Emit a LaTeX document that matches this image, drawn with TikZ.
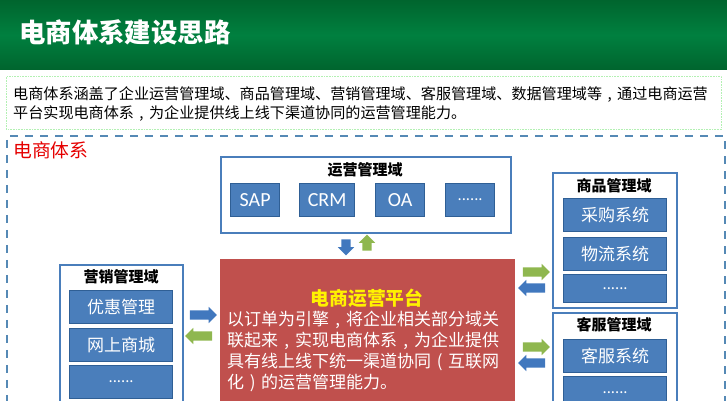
\documentclass[tikz,border=0pt]{standalone}
\usepackage{fontspec}
\setmainfont{Noto Sans CJK SC}
\newfontfamily\latinf{Carlito}
\usetikzlibrary{shapes.arrows}
\newcommand\fw[1]{\makebox[1em][c]{#1}}
\definecolor{hdark}{HTML}{00652E}
\definecolor{hmid}{HTML}{00803F}
\definecolor{bluefill}{HTML}{4A7EBB}
\definecolor{blueedge}{HTML}{2F5F95}
\definecolor{frameblue}{HTML}{5589B5}
\definecolor{redfill}{HTML}{C0504D}
\definecolor{greenar}{HTML}{8FB74F}
\definecolor{bluear}{HTML}{4178BE}
\tikzset{
  x=1pt,y=-1pt,
  box/.style={draw=bluefill,line width=1.5pt,fill=white,inner sep=0pt},
  sysbox/.style={draw=blueedge,line width=1.2pt,fill=bluefill,inner sep=0pt,text=white,font=\fontsize{17}{20}\selectfont,minimum height=33pt,minimum width=103pt},
  dots/.style={sysbox,font=\fontsize{15}{17}\selectfont},
  domtitle/.style={font=\fontsize{15}{17}\selectfont\bfseries,text=black,inner sep=0pt},
  blockar/.style={single arrow,draw=none,inner sep=4.5pt,minimum height=27pt,single arrow head extend=3.5pt,single arrow head indent=0pt},
}
\begin{document}
\begin{tikzpicture}
\useasboundingbox (0,0) rectangle (727,400);
\clip (0,0) rectangle (727,400);
% header
\path[top color=hdark,bottom color=hmid] (0,0) rectangle (727,35);
\path[top color=hmid,bottom color=hdark] (0,35) rectangle (727,69);
\node[anchor=west,text=white,font=\fontsize{26.4}{30}\selectfont\bfseries,inner sep=0pt] (title) at (19,32) {电商体系建设思路};
% intro box
\node[draw=black!20!green!30!white,densely dotted,line width=.6pt,minimum width=715pt,minimum height=53pt,anchor=north west,inner sep=0pt] (introbox) at (6,76) {};
\node[anchor=north west,align=left,inner sep=0pt,font=\fontsize{15.1}{19}\selectfont,text=black] (intro) at (13,86) {电商体系涵盖了企业运营管理域、商品管理域、营销管理域、客服管理域、数据管理域等\fw{,}通过电商运营\\平台实现电商体系\fw{,}为企业提供线上线下渠道协同的运营管理能力。};
% frame
\node[draw=frameblue,dash pattern=on 8pt off 7pt,line width=1.6pt,minimum width=718pt,minimum height=300pt,anchor=north west,inner sep=0pt] (frame) at (6,135) {};
\node[anchor=west,text=red!90!black,inner sep=0pt,font=\fontsize{18.8}{22}\selectfont] (ftitle) at (13,150) {电商体系};
% ops
\node[box,minimum width=290pt,minimum height=76pt,anchor=north west] (ops) at (220,156) {};
\node[domtitle] (opst) at (365,170) {运营管理域};
\node[sysbox,minimum width=49pt,anchor=north west,font=\latinf\fontsize{20}{22}\selectfont] (sap) at (230,183) {SAP};
\node[sysbox,minimum width=55pt,anchor=north west,font=\latinf\fontsize{20}{22}\selectfont] (crm) at (299,183) {CRM};
\node[sysbox,minimum width=49pt,anchor=north west,font=\latinf\fontsize{20}{22}\selectfont] (oa) at (375,183) {OA};
\node[dots,minimum width=49pt,anchor=north west] (opsd) at (445,183) {......};
\node[blockar,fill=bluear,minimum height=16pt,shape border rotate=270] (a1) at (346,245) {};
\node[blockar,fill=greenar,minimum height=16pt,shape border rotate=90] (a2) at (367,245) {};
% platform
\node[fill=redfill,minimum width=295pt,minimum height=160pt,anchor=north west,inner sep=0pt] (plat) at (220,259) {};
\node[text=yellow,font=\fontsize{18.8}{22}\selectfont\bfseries,inner sep=0pt] (platt) at (367,298) {电商运营平台};
\node[anchor=north west,align=left,text=white,inner sep=0pt,font=\fontsize{17}{20.8}\selectfont] (platb) at (227,311) {以订单为引擎\fw{,}将企业相关部分域关\\联起来\fw{,}实现电商体系\fw{,}为企业提供\\具有线上线下统一渠道协同\fw{(}互联网\\化\fw{)}的运营管理能力。};
% marketing
\node[box,minimum width=123pt,minimum height=150pt,anchor=north west] (mk) at (59,264) {};
\node[domtitle] (mkt) at (121,277) {营销管理域};
\node[sysbox,anchor=north west] (yh) at (69,290) {优惠管理};
\node[sysbox,anchor=north west] (wl) at (69,328) {网上商城};
\node[dots,anchor=north west] (mkd) at (69,365) {......};
\node[blockar,fill=bluear] (a3) at (201,315) {};
\node[blockar,fill=greenar,shape border rotate=180] (a4) at (201,336) {};
% goods
\node[box,minimum width=124pt,minimum height=135pt,anchor=north west] (gd) at (552,172) {};
\node[domtitle] (gdt) at (614,186) {商品管理域};
\node[sysbox,anchor=north west] (cg) at (563,198) {采购系统};
\node[sysbox,anchor=north west] (ws) at (563,237) {物流系统};
\node[dots,minimum height=28pt,anchor=north west] (gdd) at (563,274) {......};
\node[blockar,fill=greenar] (a5) at (534,272) {};
\node[blockar,fill=bluear,shape border rotate=180] (a6) at (534,288) {};
% service
\node[box,minimum width=124pt,minimum height=120pt,anchor=north west] (sv) at (552,312) {};
\node[domtitle] (svt) at (614,325) {客服管理域};
\node[sysbox,anchor=north west] (kf) at (563,339) {客服系统};
\node[dots,anchor=north west] (svd) at (563,376) {......};
\node[blockar,fill=greenar] (a7) at (534,347) {};
\node[blockar,fill=bluear,shape border rotate=180] (a8) at (534,363) {};
\end{tikzpicture}
\end{document}
